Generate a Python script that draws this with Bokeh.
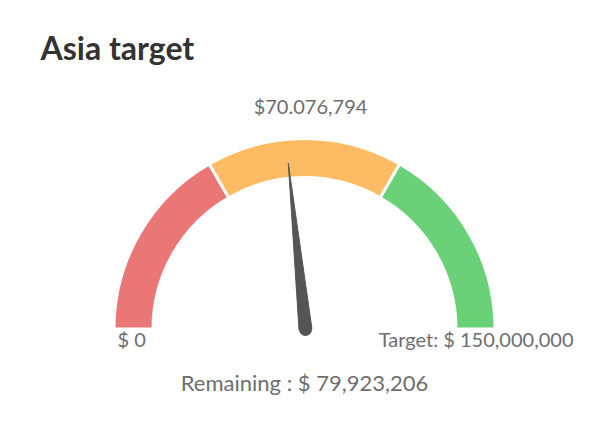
import math
from bokeh.plotting import figure
from bokeh.models import ColumnDataSource, Range1d
from bokeh.core.properties import value
from bokeh.embed import file_html
from bokeh.resources import INLINE

# ---- data ----
title_text = "Asia target"
current_value = 70076794
target_value = 150000000
band_edges = [0, 50000000, 100000000, 150000000]
band_colors = ["#EA7676", "#FDBC63", "#6BD178"]
value_label = "$70.076,794"
min_label = "$ 0"
target_label = "Target: $ 150,000,000"
remaining_label = "Remaining : $ 79,923,206"

W, H = 592, 416
p = figure(width=W, height=H, output_backend="svg", toolbar_location=None,
           x_range=Range1d(0, W), y_range=Range1d(0, H), min_border=0)
p.axis.visible = False
p.grid.visible = False
p.outline_line_color = None
p.background_fill_color = "white"
p.border_fill_color = "white"

def Y(sy):
    return H - sy

cx, cy = 304, Y(328.5)
r_out, r_in = 190.5, 151.5

def ang(v):
    return math.pi * (1 - v / target_value)

starts = [ang(band_edges[i + 1]) for i in range(3)]
ends = [ang(band_edges[i]) for i in range(3)]
src = ColumnDataSource(dict(x=[cx] * 3, y=[cy] * 3, s=starts, e=ends, c=band_colors))
p.annular_wedge(x="x", y="y", inner_radius=r_in, outer_radius=r_out,
                start_angle="s", end_angle="e", fill_color="c",
                line_color="white", line_width=3, source=src)

# needle
nx, ny = 305, Y(329)
th = ang(current_value)
L = 167
bw = 6.5
tip = (nx + L * math.cos(th), ny + L * math.sin(th))
b1 = (nx + bw * math.cos(th + math.pi / 2), ny + bw * math.sin(th + math.pi / 2))
b2 = (nx + bw * math.cos(th - math.pi / 2), ny + bw * math.sin(th - math.pi / 2))
p.patch([b1[0], tip[0], b2[0]], [b1[1], tip[1], b2[1]], fill_color="#555555",
        line_color="#555555", line_width=1)
p.circle([nx], [ny], radius=bw, fill_color="#555555", line_color=None)

grey = "#6e6e6e"
p.text([40], [Y(47)], text=[title_text], text_font=value("Lato"), text_font_style="bold",
       text_font_size="32px", text_color="#333333", text_baseline="alphabetic")
p.text([310], [Y(105)], text=[value_label], text_font=value("Lato"), text_font_size="20px",
       text_color=grey, text_align="center", text_baseline="alphabetic")
p.text([117], [Y(338)], text=[min_label], text_font=value("Lato"), text_font_size="20px",
       text_color=grey, text_align="left", text_baseline="alphabetic")
p.text([573], [Y(338)], text=[target_label], text_font=value("Lato"), text_font_size="20px",
       text_color=grey, text_align="right", text_baseline="alphabetic")
p.text([cx], [Y(382)], text=[remaining_label], text_font=value("Lato"), text_font_size="22px",
       text_color=grey, text_align="center", text_baseline="alphabetic")

open("out.html", "w").write(file_html(p, INLINE))
